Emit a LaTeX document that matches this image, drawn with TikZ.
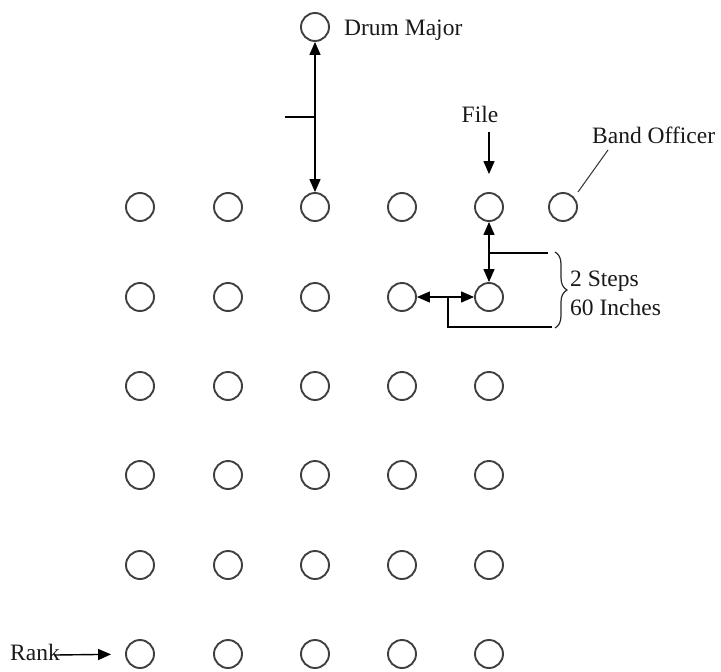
\documentclass[tikz,border=0pt]{standalone}
\usepackage{fontspec}
\setmainfont{Liberation Serif}
\usetikzlibrary{arrows.meta,decorations.pathreplacing}
\begin{document}
\begin{tikzpicture}[x=1pt,y=-1pt,
  man/.style={circle,draw=black!75,line width=1.9pt,minimum size=28pt,inner sep=0pt},
  lbl/.style={inner sep=0pt,text=black!90,font=\fontsize{23.5}{26}\selectfont},
  conn/.style={line width=1.4pt,black},
  arr/.style={conn,-{Triangle[length=13pt,width=11pt]}},
  darr/.style={conn,{Triangle[length=13pt,width=11pt]}-{Triangle[length=13pt,width=11pt]}},
]
\useasboundingbox (0,0) rectangle (721,672);
% grid of marchers
\foreach \c/\x in {1/140,2/228,3/315,4/402,5/489}
  \foreach \r/\y in {1/207,2/297,3/386,4/475,5/565,6/654}
    \node[man] (m\r\c) at (\x,\y) {};
\node[man] (dm) at (315,27) {};
\node[man] (bof) at (563,207) {};
% labels
\node[lbl,anchor=base west] (dmlbl) at (344,35) {Drum Major};
\node[lbl,anchor=base] (file) at (480,122) {File};
\node[lbl,anchor=base west] (bolbl) at (592,143) {Band Officer};
\node[lbl,anchor=base west] (steps) at (570,286) {2 Steps};
\node[lbl,anchor=base west] (inches) at (570,315) {60 Inches};
\node[lbl,anchor=base west] (rank) at (10,660) {Rank};
% drum major distance
\draw[darr] (dm) -- (m13);
\coordinate (t1) at (285,117);
\draw[conn] (t1) -- (t1 -| m13);
% file arrow
\coordinate (fa) at (489,132);
\draw[arr,shorten >=18pt] (fa) -- (m15);
% band officer pointer
\coordinate (bo0) at (608,150);
\coordinate (bo1) at (578,192);
\draw[line width=1pt,black!80] (bo0) -- (bo1);
% two steps between ranks / files
\draw[darr] (m15) -- (m25);
\coordinate (k1) at (489,253);
\coordinate (k2) at (548,253);
\draw[conn] (k1) -- (k2);
\draw[darr] (m24) -- (m25);
\coordinate (h1) at (448,297);
\coordinate (h2) at (448,327);
\coordinate (h3) at (552,327);
\draw[conn] (h1) -- (h2) -- (h3);
\coordinate (b1) at (555,252);
\coordinate (b2) at (555,328);
\draw[line width=1.2pt,black!85,decorate,decoration={brace,amplitude=12pt}] (b1) -- (b2);
% rank arrow
\coordinate (ra) at (55,655);
\draw[arr,shorten >=14pt] (ra) -- (m61);
\end{tikzpicture}
\end{document}
